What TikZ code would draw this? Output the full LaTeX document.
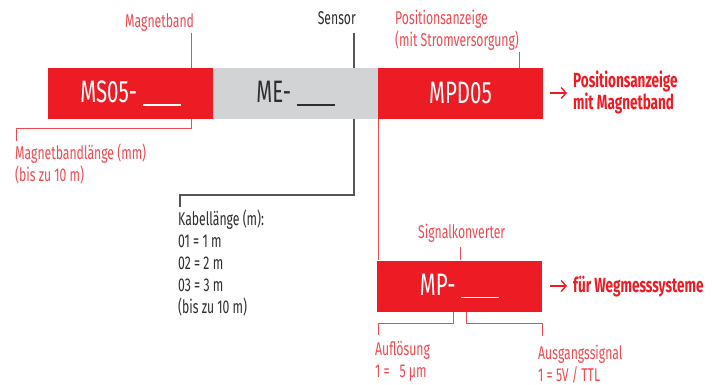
\documentclass[tikz,border=0pt]{standalone}
\usepackage{fontspec}
\setmainfont{Fira Sans}[FakeStretch=0.66]
\usetikzlibrary{arrows.meta}
\definecolor{boxred}{HTML}{ED1C24}
\definecolor{boxgrey}{HTML}{D1D3D4}
\definecolor{lblred}{HTML}{EF4A52}
\definecolor{darktxt}{HTML}{2E2E2E}
\definecolor{lineGrey}{HTML}{555555}
\begin{document}
\begin{tikzpicture}[x=1pt,y=-1pt,
  box/.style={draw=none, minimum width=165pt, minimum height=51pt, inner sep=0pt,
    font=\fontsize{31}{33}\selectfont},
  lbl/.style={anchor=base west, inner sep=1pt, text=lblred, font=\fontsize{18.5}{22}\selectfont, align=left},
  dlbl/.style={anchor=base west, inner sep=1pt, text=darktxt, font=\fontsize{18.5}{22}\selectfont, align=left},
  blbl/.style={anchor=base west, inner sep=0pt, text=boxred, font=\fontsize{20.5}{21}\selectfont\bfseries, align=left},
  redline/.style={draw=lblred, line width=0.9pt},
  greyline/.style={draw=lineGrey, line width=1.3pt},
  arr/.style={draw=boxred, line width=1.4pt, -{Straight Barb[length=5pt,width=11pt]}}
]
\useasboundingbox (0,0) rectangle (712,385);
\fill[white] (0,0) rectangle (712,385);

% labels
\node[lbl] (magl) at (124,28) {Magnetband};
\node[dlbl, anchor=base east] (senl) at (357,25) {Sensor};
\node[lbl] (posl) at (394,47) {Positionsanzeige\\(mit Stromversorgung)};
\node[lbl] (mbl) at (14,182) {Magnetbandlänge (mm)\\(bis zu 10 m)};
\node[dlbl] (kab) at (177,313) {Kabellänge (m):\\01 = 1 m\\02 = 2 m\\03 = 3 m\\(bis zu 10 m)};
\node[lbl] (sigl) at (417,238) {Signalkonverter};
\node[lbl] (aufl) at (374,377) {Auflösung\\1 = \ \ 5 µm};
\node[lbl] (ausl) at (537,381) {Ausgangssignal\\1 = 5V / TTL};

% connector coordinates
\coordinate (c1) at (191,68);
\coordinate (c2) at (191,119);
\coordinate (c3) at (16,141);
\coordinate (s1) at (354,33);
\coordinate (s2) at (180,207);
\coordinate (p1) at (519,68);
\coordinate (q1) at (460,260);
\coordinate (a1) at (453,312);
\coordinate (a2) at (378,335);
\coordinate (b1) at (466,312);
\coordinate (b2) at (542,336);

% lines
\draw[redline] (c1) -- (191,33);
\draw[redline] (c2) -- ++(0,9) -| (c3);
\draw[greyline] (s1) -- (354,195) -| (s2);
\draw[redline] (p1) -- (519,52);
\draw[redline] (378,119) -- (378,260);
\draw[redline] (q1) -- (460,247);
\draw[redline] (a1) -- ++(0,11) -| (a2);
\draw[redline] (b1) -- ++(0,11) -| (b2);

% boxes
\node[box, fill=boxred, text=white] (ms) at (130.5,93.5) {MS05- \rule[-3pt]{38pt}{1.6pt}};
\node[box, fill=boxgrey, text=darktxt] (me) at (295.5,93.5) {ME- \rule[-3pt]{38pt}{1.6pt}};
\node[box, fill=boxred, text=white] (mpd) at (460.5,93.5) {MPD05};
\node[box, fill=boxred, text=white] (mp) at (459.5,286) {MP- \rule[-3pt]{38pt}{1.6pt}};

% right labels
\node[blbl] (r1) at (573,110) {Positionsanzeige\\mit Magnetband};
\node[blbl] (r2) at (573,292) {für Wegmesssysteme};
\coordinate (ar1) at (550,93);
\coordinate (ar2) at (550,286);
\draw[arr] (ar1) -- (567,93);
\draw[arr] (ar2) -- (567,286);
\end{tikzpicture}
\end{document}
